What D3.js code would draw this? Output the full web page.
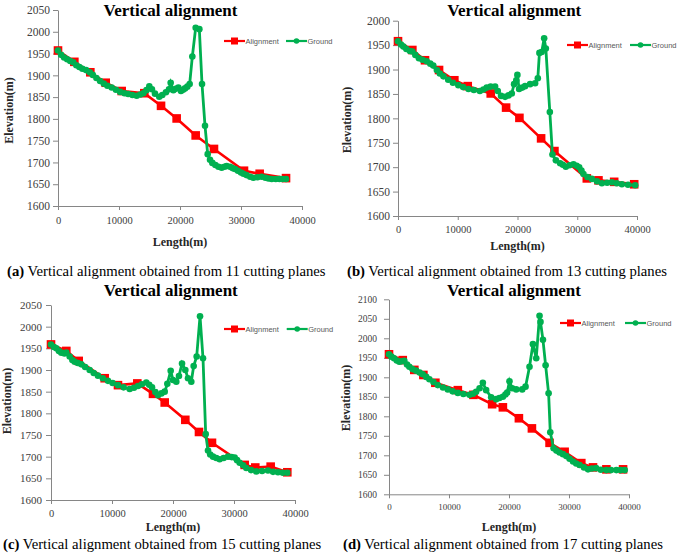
<!DOCTYPE html>
<html><head><meta charset="utf-8">
<script src="https://cdn.jsdelivr.net/npm/d3@7"></script>
<style>
html,body{margin:0;padding:0;background:#fff;}
svg{display:block;}
</style></head>
<body>
<svg id="chart" width="685" height="560"></svg>
<script>
// ---------- DATA ----------
const xTicks = [0, 10000, 20000, 30000, 40000];
const yTicksA = [1600, 1650, 1700, 1750, 1800, 1850, 1900, 1950, 2000, 2050];
const yTicksB = [1600, 1650, 1700, 1750, 1800, 1850, 1900, 1950, 2000];
const yTicksC = [1600, 1650, 1700, 1750, 1800, 1850, 1900, 1950, 2000, 2050];
const yTicksD = [1600, 1650, 1700, 1750, 1800, 1850, 1900, 1950, 2000, 2050, 2100];

const seriesNames = ["Alignment", "Ground"];
const panelLetters = ["(a)", "(b)", "(c)", "(d)"];
const cuttingPlanes = [11, 13, 15, 17];

const alignA = [[0,1957],[2680,1931],[5300,1907],[7820,1883],[10440,1864],[14150,1859],[16890,1830],[19450,1801],[22570,1762],[25570,1731],[30490,1681],[33060,1674],[37380,1664]];
const groundA = [[0,1957],[500,1947],[1000,1941],[1500,1937],[2000,1933],[2500,1930],[3000,1923],[3500,1919],[4000,1915],[4600,1912],[5200,1907],[5700,1901],[6300,1894],[6900,1887],[7500,1881],[8100,1876],[8800,1872],[9500,1867],[10200,1862],[10900,1859],[11500,1857],[12200,1855],[12900,1853],[13500,1856],[14000,1859],[14500,1866],[14970,1875],[15400,1868],[15900,1858],[16600,1851],[17100,1855],[17700,1861],[18200,1868],[18470,1883],[18910,1866],[19300,1869],[19730,1872],[20160,1864],[20500,1867],[20820,1870],[21200,1874],[21580,1880],[22020,1943],[22570,2009],[23170,2006],[23610,1880],[24100,1784],[24540,1719],[24920,1706],[25300,1699],[25800,1694],[26300,1690],[26830,1688],[27300,1690],[27650,1692],[28200,1690],[28600,1687],[29020,1685],[29500,1681],[30000,1677],[30400,1674],[30900,1671],[31500,1667],[32020,1665],[32700,1666],[33390,1667],[34000,1665],[34500,1663],[35030,1662],[35700,1662],[36300,1662],[36800,1662],[37380,1662]];

const alignB = [[0,1958],[2400,1940],[4520,1919],[6870,1899],[9430,1878],[11670,1866],[15520,1851],[18090,1822],[20320,1801],[23950,1759],[26180,1733],[31600,1677],[33550,1673],[36180,1670],[39530,1665]];
const groundB = [[0,1958],[500,1951],[900,1947],[1400,1942],[2000,1938],[2400,1937],[2900,1930],[3500,1923],[4100,1920],[4800,1917],[5400,1912],[5900,1908],[6500,1899],[7000,1892],[7600,1886],[8400,1879],[9200,1873],[10100,1868],[10900,1864],[11800,1860],[12700,1858],[13700,1856],[14300,1859],[14850,1863],[15500,1865],[16250,1865],[16700,1856],[17250,1846],[17920,1844],[18500,1847],[19040,1851],[19430,1870],[19800,1878],[19980,1889],[20270,1860],[20800,1863],[21270,1866],[22110,1870],[22950,1872],[23400,1882],[23670,1934],[24050,1936],[24460,1964],[24740,1943],[25410,1813],[25850,1726],[26420,1714],[27140,1708],[27600,1705],[28090,1701],[28700,1704],[29370,1706],[29900,1703],[30320,1700],[30700,1693],[31040,1686],[31700,1680],[32440,1676],[33300,1671],[34120,1667],[35000,1668],[35790,1669],[36600,1667],[37470,1665],[38500,1664],[39700,1663]];

const alignC = [[0,1959],[2510,1944],[4540,1921],[8800,1881],[10980,1865],[14150,1869],[16720,1845],[18640,1825],[22020,1785],[24260,1757],[26390,1732],[31750,1681],[33490,1675],[36010,1677],[38740,1664]];
const groundC = [[0,1959],[500,1953],[870,1950],[1300,1944],[1690,1940],[2200,1938],[2510,1940],[3060,1931],[3500,1923],[3880,1919],[4400,1916],[4970,1913],[5600,1907],[6340,1900],[7000,1893],[7700,1887],[8500,1881],[9340,1875],[10100,1870],[10980,1865],[11900,1860],[12900,1856],[13600,1859],[14260,1863],[14900,1867],[15620,1871],[16100,1866],[16560,1860],[17100,1849],[17540,1842],[18100,1846],[18640,1850],[19070,1868],[19620,1898],[20000,1877],[20540,1873],[20980,1886],[21480,1915],[22020,1900],[22460,1881],[23000,1873],[23390,1909],[23880,1931],[24430,2024],[24920,1927],[25360,1752],[25740,1714],[26100,1705],[26560,1700],[27100,1697],[27650,1694],[28300,1697],[29020,1700],[29600,1699],[30110,1698],[30500,1692],[30930,1686],[31500,1680],[32020,1674],[32800,1669],[33660,1666],[34600,1667],[35570,1668],[36400,1665],[37210,1664],[38000,1663],[38740,1663]];

const alignD = [[0,1959],[2290,1944],[4220,1919],[5730,1906],[7730,1886],[11470,1867],[14070,1855],[17190,1831],[18980,1823],[21650,1795],[23820,1769],[26760,1732],[29270,1709],[32050,1680],[34000,1669],[36230,1664],[39010,1664]];
const groundD = [[0,1959],[400,1953],[830,1949],[1300,1943],[1720,1940],[2100,1941],[2550,1942],[3000,1933],[3390,1927],[3900,1921],[4510,1917],[5100,1912],[5620,1908],[6200,1901],[6730,1895],[7400,1888],[8130,1880],[9000,1874],[9800,1869],[10600,1864],[11470,1860],[12400,1857],[13410,1855],[14000,1858],[14520,1863],[15100,1872],[15640,1886],[16190,1867],[17030,1849],[17860,1844],[18400,1847],[18980,1850],[19400,1856],[19700,1861],[20080,1890],[20530,1872],[21200,1869],[22200,1869],[22760,1876],[23420,1927],[23990,1985],[24540,1949],[25090,2058],[25250,2042],[25660,1996],[26100,1931],[26600,1859],[26880,1759],[27430,1718],[27900,1712],[28430,1707],[29000,1703],[29550,1698],[30100,1691],[30670,1684],[31200,1679],[31770,1675],[32500,1669],[33170,1664],[33800,1666],[34510,1667],[35300,1663],[36230,1662],[37000,1662],[37900,1662],[38600,1662],[39290,1662]];

// ---------- LAYOUT ----------
const panels = [
  {align: alignA, ground: groundA, yTicks: yTicksA, x0:58, x1:302, yTop:10, yBot:206, yFont:11.5, xFont:10.5, yLabelEnd:50, xLabelY:224,
   titleX:170.5, titleY:16, eX:12.5, eY:110.5, lenY:246, legY:41, legX:224, gLegX:286, capX:7, capY:276},
  {align: alignB, ground: groundB, yTicks: yTicksB, x0:398, x1:637, yTop:20.7, yBot:216, yFont:11.5, xFont:10.5, yLabelEnd:390, xLabelY:233,
   titleX:514.3, titleY:16, eX:351, eY:120, lenY:250, legY:45, legX:567, gLegX:630, capX:347, capY:276},
  {align: alignC, ground: groundC, yTicks: yTicksC, x0:51, x1:295, yTop:305, yBot:500, yFont:11, xFont:10.5, yLabelEnd:42, xLabelY:517,
   titleX:170.8, titleY:296, eX:11, eY:401, lenY:531, legY:329, legX:224, gLegX:286.7, capX:3, capY:548.5},
  {align: alignD, ground: groundD, yTicks: yTicksD, x0:389, x1:629, yTop:299.3, yBot:494.3, yFont:9.5, xFont:9, yLabelEnd:377, xLabelY:510,
   titleX:514, titleY:296, eX:350, eY:398, lenY:531, legY:323, legX:560, gLegX:625, capX:343, capY:548.5}
];

const RED = "#ff0000", GREEN = "#00b050", AXIS = "#868686", TXT = "#404040";
const SERIF = "Liberation Serif, DejaVu Serif, serif";
const SANS = "Liberation Sans, Open Sans, sans-serif";

const svg = d3.select("#chart");

panels.forEach((p, i) => {
  const g = svg.append("g");
  const x = d3.scaleLinear().domain([0, 40000]).range([p.x0, p.x1]);
  const y = d3.scaleLinear().domain([p.yTicks[0], p.yTicks[p.yTicks.length-1]]).range([p.yBot, p.yTop]);

  // Y axis
  const ya = g.append("g").attr("transform", `translate(${p.x0},0)`)
    .call(d3.axisLeft(y).tickValues(p.yTicks).tickSize(5).tickSizeOuter(0).tickPadding(p.x0 - p.yLabelEnd - 5).tickFormat(d3.format("d")));
  ya.attr("font-family", SERIF).attr("font-size", p.yFont);
  ya.select(".domain").attr("stroke", AXIS);
  ya.selectAll(".tick line").attr("stroke", AXIS);
  ya.selectAll(".tick text").attr("fill", TXT);

  // X axis
  const xa = g.append("g").attr("transform", `translate(0,${p.yBot})`)
    .call(d3.axisBottom(x).tickValues(xTicks).tickSize(4).tickSizeOuter(0).tickPadding(p.xLabelY - p.yBot - 4 - p.xFont*0.7).tickFormat(d3.format("d")));
  xa.attr("font-family", SERIF).attr("font-size", p.xFont);
  xa.select(".domain").attr("stroke", AXIS);
  xa.selectAll(".tick line").attr("stroke", AXIS);
  xa.selectAll(".tick text").attr("fill", TXT);

  // Alignment series
  const line = d3.line().x(d => x(d[0])).y(d => y(d[1]));
  g.append("path").datum(p.align).attr("d", line).attr("fill", "none").attr("stroke", RED).attr("stroke-width", 2.6);
  g.selectAll(".sq").data(p.align).enter().append("rect")
    .attr("x", d => x(d[0]) - 4.3).attr("y", d => y(d[1]) - 4.3).attr("width", 8.6).attr("height", 8.6).attr("fill", RED);

  // Ground series
  g.append("path").datum(p.ground).attr("d", line).attr("fill", "none").attr("stroke", GREEN).attr("stroke-width", 2.8);
  g.selectAll(".ci").data(p.ground).enter().append("circle")
    .attr("cx", d => x(d[0])).attr("cy", d => y(d[1])).attr("r", 3.3).attr("fill", GREEN);

  // Title
  g.append("text").attr("x", p.titleX).attr("y", p.titleY).attr("text-anchor", "middle")
    .attr("font-family", SERIF).attr("font-weight", "bold").attr("font-size", 17).attr("fill", "#000")
    .text("Vertical alignment");

  // Axis titles
  g.append("text").attr("x", (p.x0 + p.x1) / 2).attr("y", p.lenY).attr("text-anchor", "middle")
    .attr("font-family", SERIF).attr("font-weight", "bold").attr("font-size", 12).attr("fill", "#262626")
    .text("Length(m)");
  g.append("text").attr("transform", `translate(${p.eX},${p.eY}) rotate(-90)`).attr("text-anchor", "middle")
    .attr("font-family", SERIF).attr("font-weight", "bold").attr("font-size", 12).attr("fill", "#262626")
    .text("Elevation(m)");

  // Legend
  const leg = [{name: seriesNames[0], color: RED, lx: p.legX, sq: true}, {name: seriesNames[1], color: GREEN, lx: p.gLegX, sq: false}];
  leg.forEach(l => {
    g.append("line").attr("x1", l.lx).attr("x2", l.lx + 21).attr("y1", p.legY).attr("y2", p.legY).attr("stroke", l.color).attr("stroke-width", 2.2);
    if (l.sq) g.append("rect").attr("x", l.lx + 7).attr("y", p.legY - 3.5).attr("width", 7).attr("height", 7).attr("fill", l.color);
    else g.append("circle").attr("cx", l.lx + 10.5).attr("cy", p.legY).attr("r", 2.8).attr("fill", l.color);
    g.append("text").attr("x", l.lx + 21.5).attr("y", p.legY + 2.7).attr("font-family", SANS).attr("font-size", 7.5).attr("fill", "#595959").text(l.name);
  });

  // Caption
  const cap = g.append("text").attr("x", p.capX).attr("y", p.capY)
    .attr("font-family", SERIF).attr("font-size", 14.7).attr("fill", "#000");
  cap.append("tspan").attr("font-weight", "bold").text(panelLetters[i]);
  cap.append("tspan").text(` Vertical alignment obtained from ${cuttingPlanes[i]} cutting planes`);
});
</script>
</body></html>
